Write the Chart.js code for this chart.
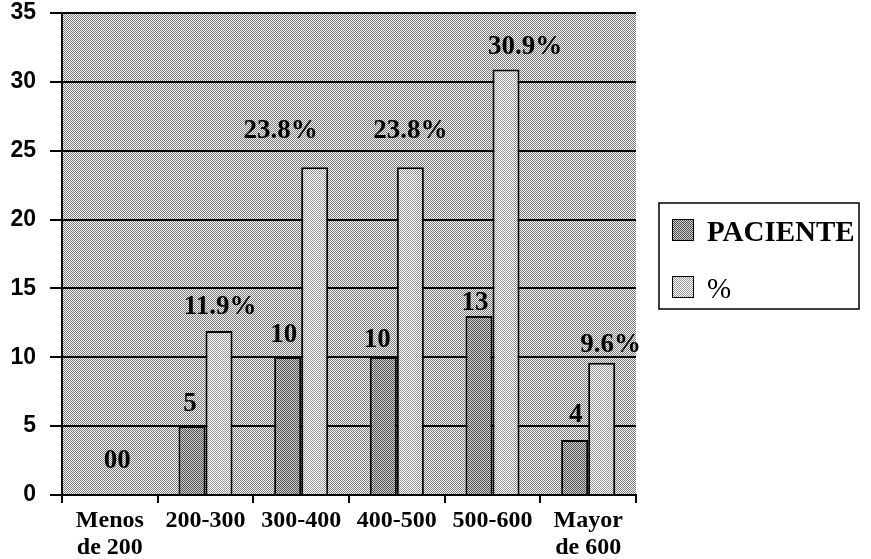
<!DOCTYPE html>
<html>
<head>
<meta charset="utf-8">
<script src="https://cdn.jsdelivr.net/npm/chart.js@4/dist/chart.umd.min.js"></script>
<style>
  html, body { margin: 0; padding: 0; background: #fff; }
  #wrap { width: 871px; height: 559px; position: relative; }
</style>
</head>
<body>
<div id="wrap"><canvas id="c" width="871" height="559"></canvas></div>
<script>
const categories = [["Menos", "de 200"], "200-300", "300-400", "400-500", "500-600", ["Mayor", "de 600"]];
const seriesNames = ["PACIENTE", "%"];
const pacientes = [0, 5, 10, 10, 13, 4];
const porcentajes = [0, 11.9, 23.8, 23.8, 30.9, 9.6];
const pacienteLabels = ["00", "5", "10", "10", "13", "4"];
const porcentajeLabels = ["", "11.9%", "23.8%", "23.8%", "30.9%", "9.6%"];
const yMin = 0, yMax = 35, yStep = 5;

function makePattern(a, b) {
  const c = document.createElement('canvas');
  c.width = 2; c.height = 2;
  const x = c.getContext('2d');
  x.fillStyle = b; x.fillRect(0, 0, 2, 2);
  x.fillStyle = a; x.fillRect(0, 0, 1, 1); x.fillRect(1, 1, 1, 1);
  return x.createPattern(c, 'repeat');
}
const bgPattern = makePattern('#7c7c7c', '#f4f4f4');
const darkPattern = makePattern('#505050', '#cfcfcf');
const lightPattern = makePattern('#9a9a9a', '#fafafa');

const bgPlugin = {
  id: 'bgPlugin',
  beforeDraw(chart) {
    const { ctx, chartArea: a } = chart;
    ctx.save();
    ctx.fillStyle = '#ffffff';
    ctx.fillRect(0, 0, chart.width, chart.height);
    ctx.fillStyle = bgPattern;
    ctx.fillRect(a.left, a.top, a.right - a.left, a.bottom - a.top);
    ctx.restore();
  }
};

const labelPlugin = {
  id: 'labelPlugin',
  afterDatasetsDraw(chart, args, opts) {
    const { ctx } = chart;
    ctx.save();
    ctx.fillStyle = '#000';
    ctx.font = opts.font;
    ctx.textAlign = 'center';
    ctx.textBaseline = 'alphabetic';
    [pacienteLabels, porcentajeLabels].forEach((texts, di) => {
      const meta = chart.getDatasetMeta(di);
      meta.data.forEach((bar, i) => {
        const t = texts[i];
        if (!t) return;
        const [dx, gap] = opts.offsets[di][i];
        ctx.fillText(t, bar.x + dx, bar.y - gap);
      });
    });
    ctx.restore();
  }
};

const legendPlugin = {
  id: 'boxLegend',
  afterDraw(chart, args, opts) {
    const { ctx } = chart;
    ctx.save();
    ctx.strokeStyle = '#000';
    ctx.lineWidth = 1.5;
    ctx.strokeRect(opts.x, opts.y, opts.w, opts.h);
    chart.data.datasets.forEach((ds, i) => {
      const sy = opts.y + 16 + i * 57;
      ctx.fillStyle = ds.backgroundColor;
      ctx.fillRect(opts.x + 13, sy, 22, 22);
      ctx.lineWidth = 1;
      ctx.strokeRect(opts.x + 13.5, sy + 0.5, 21, 21);
      ctx.fillStyle = '#000';
      ctx.font = i === 0 ? 'bold 29px "Liberation Serif"' : '29px "Liberation Serif"';
      ctx.textBaseline = 'alphabetic';
      ctx.textAlign = 'left';
      ctx.fillText(ds.label, opts.x + 48, sy + 22);
    });
    ctx.restore();
  }
};

new Chart(document.getElementById('c'), {
  type: 'bar',
  data: {
    labels: categories,
    datasets: [
      { label: seriesNames[0], data: pacientes, backgroundColor: darkPattern, borderColor: '#000', borderWidth: 2, barPercentage: 1, categoryPercentage: 0.565 },
      { label: seriesNames[1], data: porcentajes, backgroundColor: lightPattern, borderColor: '#000', borderWidth: 2, barPercentage: 1, categoryPercentage: 0.565 }
    ]
  },
  options: {
    responsive: false,
    animation: false,
    layout: { padding: { top: 13, right: 235, left: 0, bottom: 0 } },
    plugins: {
      legend: { display: false },
      tooltip: { enabled: false },
      labelPlugin: {
        font: 'bold 27px "Liberation Serif"',
        offsets: [
          [[21, 27], [-2, 15], [-4, 15], [-6, 10], [-4, 6], [1, 18]],
          [[0, 0], [1, 17], [-34, 29], [0, 29], [19, 15], [9, 11]]
        ]
      },
      boxLegend: { x: 659, y: 203, w: 200, h: 106 }
    },
    scales: {
      x: {
        grid: { display: true, drawOnChartArea: false, drawTicks: true, tickLength: 8, color: '#000', lineWidth: 2 },
        border: { display: true, color: '#000', width: 2 },
        ticks: { color: '#000', font: { family: 'Liberation Serif', weight: 'bold', size: 24, lineHeight: 1.12 }, padding: 4, maxRotation: 0, autoSkip: false },
        afterFit(scale) { scale.height = 64; scale.paddingLeft = 0; scale.paddingRight = 0; }
      },
      y: {
        min: yMin, max: yMax,
        grid: { color: '#000', lineWidth: 2, tickLength: 12, drawTicks: true },
        border: { display: true, color: '#000', width: 2 },
        ticks: { stepSize: yStep, color: '#000', font: { family: 'Liberation Sans', weight: 'bold', size: 23 }, padding: 14 },
        afterFit(scale) { scale.width = 62; scale.paddingTop = 0; scale.paddingBottom = 0; }
      }
    }
  },
  plugins: [bgPlugin, labelPlugin, legendPlugin]
});
</script>
</body>
</html>
